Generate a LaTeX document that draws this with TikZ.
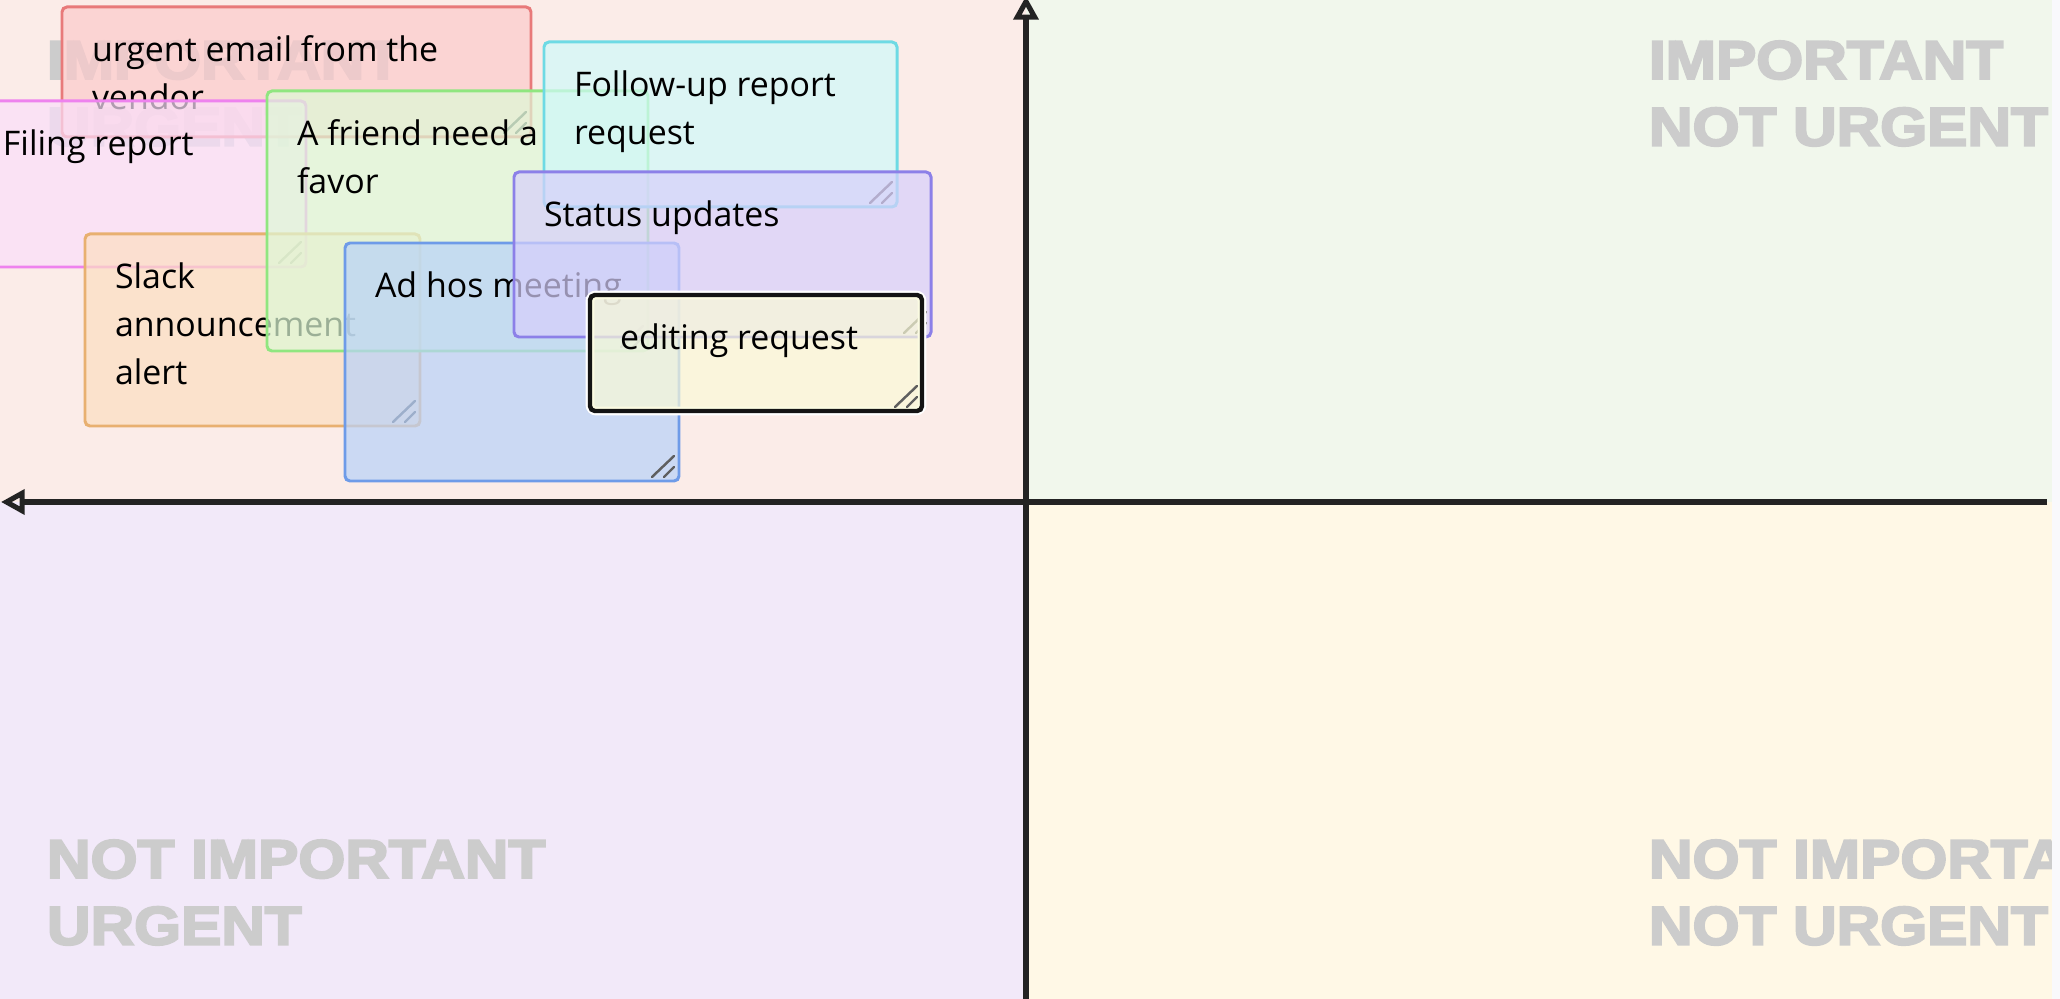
\documentclass[tikz,border=0pt]{standalone}
\usepackage{fontspec}
\usetikzlibrary{arrows.meta,calc}
\newfontfamily\notefont{Open Sans}
\newfontfamily\quadfont[FakeStretch=1.115, FakeBold=4]{Liberation Sans}
\newdimen\pxu \pxu=0.02cm
\definecolor{bgTL}{RGB}{251,236,232}
\definecolor{bgTR}{RGB}{241,247,236}
\definecolor{bgBL}{RGB}{242,233,249}
\definecolor{bgBR}{RGB}{255,248,230}
\definecolor{stripc}{RGB}{249,249,252}
\definecolor{quadgray}{RGB}{204,204,204}
\definecolor{axisc}{RGB}{35,35,35}
\definecolor{gripc}{RGB}{95,95,95}
\definecolor{redF}{RGB}{252,202,203}\definecolor{redB}{RGB}{232,122,122}
\definecolor{pinkF}{RGB}{250,223,250}\definecolor{pinkB}{RGB}{238,130,238}
\definecolor{orangeF}{RGB}{252,223,193}\definecolor{orangeB}{RGB}{232,176,112}
\definecolor{greenF}{RGB}{222,250,215}\definecolor{greenB}{RGB}{144,230,128}
\definecolor{blueF}{RGB}{184,210,249}\definecolor{blueB}{RGB}{110,155,232}
\definecolor{cyanF}{RGB}{207,249,250}\definecolor{cyanB}{RGB}{110,218,228}
\definecolor{purpleF}{RGB}{215,207,252}\definecolor{purpleB}{RGB}{140,128,232}
\definecolor{yellowF}{RGB}{250,250,215}\definecolor{yellowB}{RGB}{20,20,20}
\tikzset{
  notebox/.style={rectangle, draw, rounded corners=2.8pt, line width=1.7pt,
    fill opacity=0.7, inner sep=0pt, outer sep=0pt, anchor=north west},
  notetext/.style={font={\notefont\fontsize{19.3pt}{27.2pt}\selectfont},
    align=left, inner sep=0pt, outer sep=0pt, anchor=north west, text=black},
  quadlabel/.style={font={\quadfont\bfseries\fontsize{30.8pt}{38pt}\selectfont},
    align=left, inner sep=0pt, outer sep=0pt, anchor=north west, text=quadgray},
  grip/.style={draw=gripc, line width=1.4pt, line cap=round},
  axis/.style={draw=axisc, line width=2.9pt},
  axistip/.style={-{Triangle[open, length=13.5pt, width=14pt]}}
}
\newcommand\gripat[1]{\draw[grip] ($(#1.south east)+(-27,-4)$) -- ++(22,-21)
  ($(#1.south east)+(-15,-4)$) -- ++(10,-10);}
\begin{document}
\begin{tikzpicture}[x=0.02cm, y=-0.02cm]
\useasboundingbox (0,0) rectangle (2060,999);
\clip (0,0) rectangle (2060,999);
% quadrant backgrounds
\fill[bgTL] (0,0) rectangle (1026,502);
\fill[bgTR] (1026,0) rectangle (2060,502);
\fill[bgBL] (0,502) rectangle (1026,999);
\fill[bgBR] (1026,502) rectangle (2060,999);
% quadrant labels
\node[quadlabel] (qTL) at (47,41) {IMPORTANT\\URGENT};
\node[quadlabel] (qTR) at (1649,41) {IMPORTANT\\NOT URGENT};
\node[quadlabel] (qBL) at (47,840) {NOT IMPORTANT\\URGENT};
\node[quadlabel] (qBR) at (1649,840) {NOT IMPORTANT\\NOT URGENT};
% notes, back to front
\node[notebox, fill=redF, draw=redB, minimum width=469\pxu, minimum height=130\pxu] (red) at (62,7) {};
\node[notetext] (redT) at ($(red.north west)+(30,29)$) {urgent email from the\\vendor};
\gripat{red}
\node[notebox, fill=pinkF, draw=pinkB, minimum width=333\pxu, minimum height=166\pxu] (pink) at (-27,101) {};
\node[notetext] (pinkT) at ($(pink.north west)+(30,29)$) {Filing report};
\gripat{pink}
\node[notebox, fill=orangeF, draw=orangeB, minimum width=335\pxu, minimum height=192\pxu] (orange) at (85,234) {};
\node[notetext] (orangeT) at ($(orange.north west)+(30,29)$) {Slack\\announcement\\alert};
\gripat{orange}
\node[notebox, fill=greenF, draw=greenB, minimum width=381\pxu, minimum height=260\pxu] (green) at (267,91) {};
\node[notetext] (greenT) at ($(green.north west)+(30,29)$) {A friend need a\\favor};
\gripat{green}
\node[notebox, fill=blueF, draw=blueB, minimum width=334\pxu, minimum height=238\pxu] (blue) at (345,243) {};
\node[notetext] (blueT) at ($(blue.north west)+(30,29)$) {Ad hos meeting};
\gripat{blue}
\node[notebox, fill=cyanF, draw=cyanB, minimum width=353\pxu, minimum height=165\pxu] (cyan) at (544,42) {};
\node[notetext] (cyanT) at ($(cyan.north west)+(30,29)$) {Follow-up report\\request};
\gripat{cyan}
\node[notebox, fill=purpleF, draw=purpleB, minimum width=417\pxu, minimum height=165\pxu] (purple) at (514,172) {};
\node[notetext] (purpleT) at ($(purple.north west)+(30,29)$) {Status updates};
\gripat{purple}
\node[rectangle, draw=white, rounded corners=3.4pt, line width=5pt, inner sep=0pt, outer sep=0pt, anchor=north west,
  minimum width=332\pxu, minimum height=116\pxu] (yellowHalo) at (590,295) {};
\node[notebox, fill=yellowF, draw=yellowB, line width=2.5pt, minimum width=332\pxu, minimum height=116\pxu] (yellow) at (590,295) {};
\node[notetext] (yellowT) at ($(yellow.north west)+(30,29)$) {editing request};
\gripat{yellow}
% axes
\coordinate (vBot) at (1026,1002);
\coordinate (vTop) at (1026,-4);
\coordinate (hRight) at (2047,502);
\coordinate (hLeft) at (1,502);
\draw[axis, axistip] (vBot) -- (vTop);
\draw[axis, axistip] (hRight) -- (hLeft);
% right strip
\fill[stripc] (2052,0) rectangle (2060,999);
\end{tikzpicture}
\end{document}
